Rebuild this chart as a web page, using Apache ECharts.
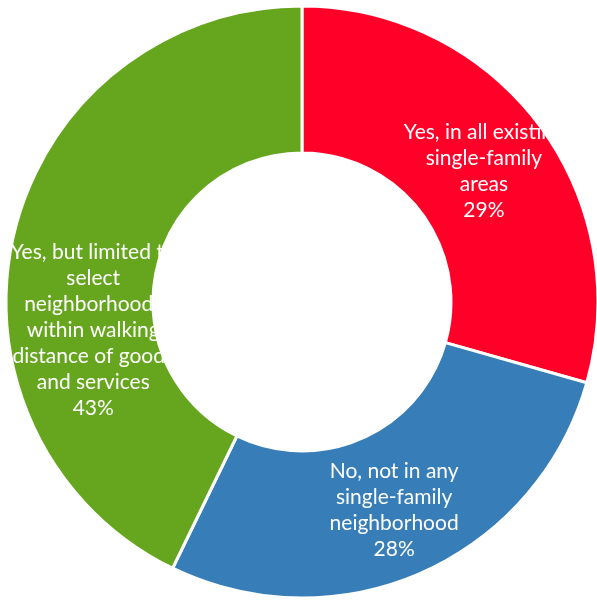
<!DOCTYPE html>
<html>
<head>
<meta charset="utf-8">
<script src="https://cdn.jsdelivr.net/npm/echarts@6/dist/echarts.min.js"></script>
<style>
html,body{margin:0;padding:0;background:#fff;}
#chart{width:597px;height:601px;}
</style>
</head>
<body>
<div id="chart"></div>
<script>
const categories = [
  "Yes, in all existing\nsingle-family\nareas",
  "No, not in any\nsingle-family\nneighborhood",
  "Yes, but limited to\nselect\nneighborhoods\nwithin walking\ndistance of goods\nand services"
];
const values = [29.4, 27.8, 42.8];
const percentLabels = ["29%", "28%", "43%"];
const colors = ["#FF0029", "#377EB8", "#66A61E"];

const chart = echarts.init(document.getElementById('chart'), null, {renderer: 'canvas'});
chart.setOption({
  animation: false,
  backgroundColor: '#ffffff',
  series: [{
    type: 'pie',
    center: [302, 302],
    radius: [149, 296],
    startAngle: 90,
    clockwise: true,
    avoidLabelOverlap: false,
    itemStyle: { borderColor: '#ffffff', borderWidth: 3 },
    label: {
      show: true,
      position: 'inside',
      color: '#ffffff',
      fontFamily: 'Lato',
      fontSize: 21,
      lineHeight: 26,
      align: 'center',
      formatter: p => p.name + '\n' + percentLabels[p.dataIndex]
    },
    labelLine: { show: false },
    emphasis: { disabled: true },
    labelLayout: function (params) {
      if (params.dataIndex === 2) return { dx: 11, dy: 79 };
      if (params.dataIndex === 1) return { dx: 0, dy: 2 };
      if (params.dataIndex === 0) return { dx: 2, dy: 5 };
      return {};
    },
    data: categories.map((c, i) => ({ name: c, value: values[i], itemStyle: { color: colors[i] } }))
  }]
});
</script>
</body>
</html>
